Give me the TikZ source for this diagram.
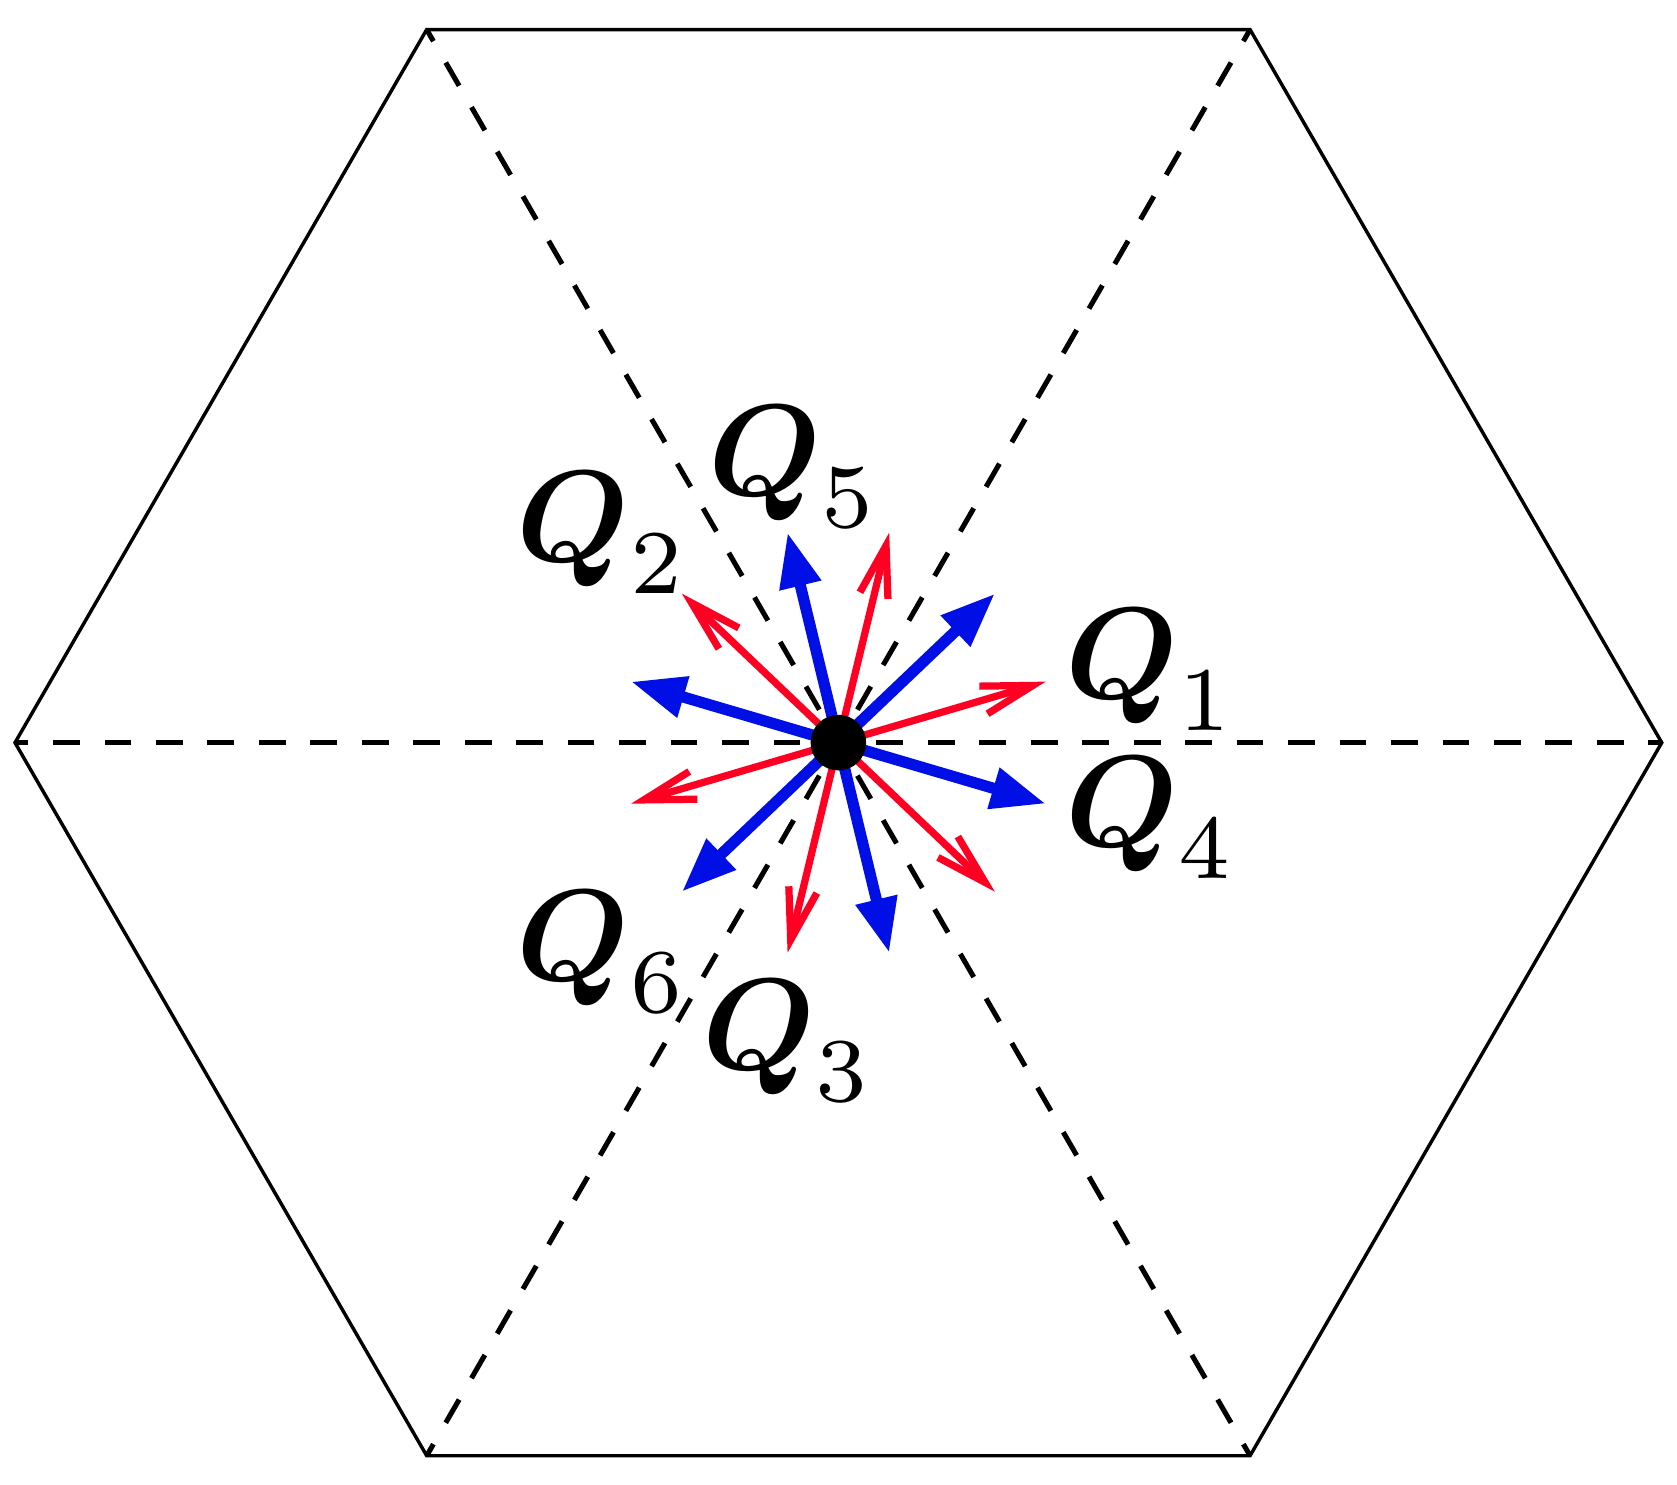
\documentclass[tikz,border=0pt]{standalone}
\usepackage{amsmath}
\usepackage{graphicx}
\usetikzlibrary{arrows.meta}
\definecolor{qred}{RGB}{255,0,35}
\definecolor{qblue}{RGB}{0,15,230}
\newcommand{\qlab}[1]{\scalebox{3.6}{$\boldsymbol{Q}_{#1}$}}
\begin{document}
\begin{tikzpicture}[
  hexline/.style={line width=0.95pt},
  dashline/.style={line width=1.4pt, dash pattern=on 0.26cm off 0.24cm, dash phase=0.13cm},
  redarrow/.style={qred, line width=2pt, -{Straight Barb[length=0.5cm,width=0.28cm]}},
  bluearrow/.style={qblue, line width=3.1pt, -{Triangle[length=0.53cm,width=0.39cm]}},
  lab/.style={inner sep=0pt, anchor=base west},
  dot/.style={circle, fill=black, inner sep=0pt, minimum size=0.54cm}
]
\useasboundingbox (-8.146,-7.212) rectangle (8.148,7.216);
\coordinate (c) at (0,0);
\foreach \i in {0,...,5} { \coordinate (v\i) at (60*\i:8); }
\draw[hexline] (v0)--(v1)--(v2)--(v3)--(v4)--(v5)--cycle;
\foreach \i in {0,...,5} { \draw[dashline] (c) -- (v\i); }
\def\ang{16.4}
\foreach \i in {0,...,5} {
  \coordinate (r\i) at (\ang+60*\i:2.10);
  \coordinate (b\i) at (-\ang+60*\i:2.10);
}
\foreach \i in {0,...,5} { \draw[redarrow] (c) -- (r\i); }
\foreach \i in {0,...,5} { \draw[bluearrow] (c) -- (b\i); }
\node[dot] (o) at (c) {};
\node[lab] (q1) at (2.20,0.43) {\qlab{1}};
\node[lab] (q4) at (2.20,-1.01) {\qlab{4}};
\node[lab] (q2) at (-3.13,1.76) {\qlab{2}};
\node[lab] (q5) at (-1.27,2.40) {\qlab{5}};
\node[lab] (q6) at (-3.13,-2.31) {\qlab{6}};
\node[lab] (q3) at (-1.33,-3.18) {\qlab{3}};
\end{tikzpicture}
\end{document}
